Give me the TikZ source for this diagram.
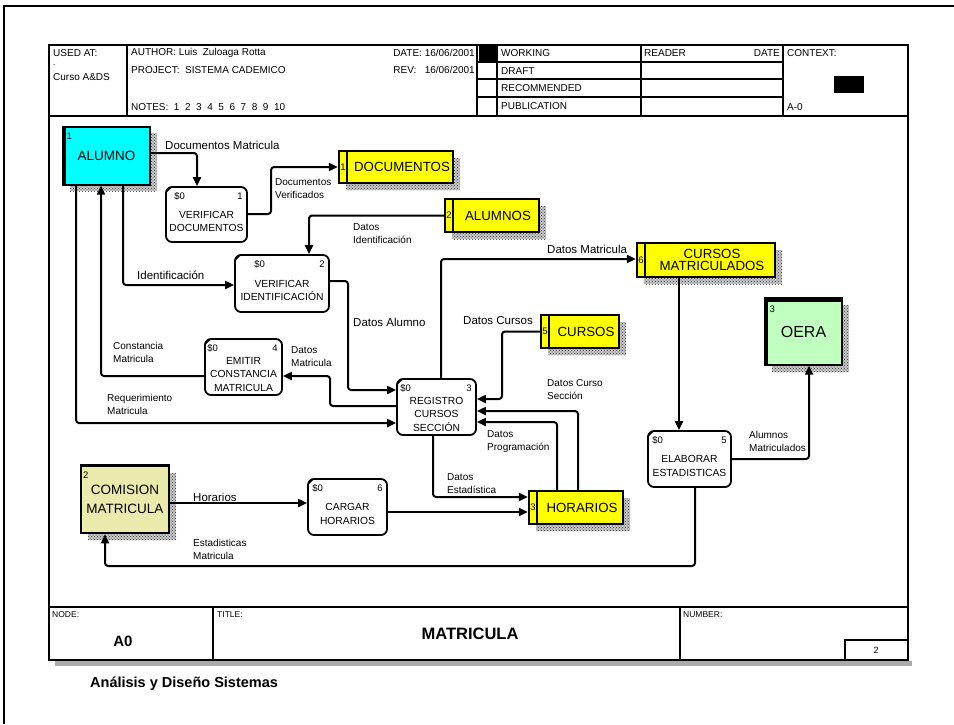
\documentclass[tikz,border=0pt]{standalone}
\usepackage{fontspec}
\setmainfont{Liberation Sans}
\usetikzlibrary{arrows.meta,patterns}

\definecolor{entcyan}{RGB}{0,255,255}
\definecolor{entgreen}{RGB}{192,255,192}
\definecolor{entkhaki}{RGB}{234,234,172}
\definecolor{storeyellow}{RGB}{255,255,0}
\definecolor{shadowgray}{RGB}{170,170,170}

\newcommand\tsz[1]{\fontsize{#1}{#1}\selectfont}

\tikzset{
  flow/.style={line width=2pt, rounded corners=3pt, -{Triangle[length=9pt,width=8pt]}},
  procbox/.style={draw, line width=1.8pt, rounded corners=6pt, fill=white, inner sep=0pt},
  storebox/.style={draw, line width=2.2pt, fill=storeyellow, inner sep=0pt},
  entitybox/.style={draw, line width=1.3pt, inner sep=0pt, align=center},
  hatch/.style={preaction={fill=black!22}, pattern=crosshatch dots, pattern color=black!80, draw=none, inner sep=0pt},
  proctxt/.style={inner sep=0pt, align=center, font=\fontsize{10.3}{13.5}\selectfont},
  tagtxt/.style={inner sep=0pt, font=\tsz{9.5}},
  storetxt/.style={inner sep=0pt, align=center, font=\fontsize{13.3}{12}\selectfont},
  lbl/.style={anchor=west, inner sep=0pt, align=left, font=\fontsize{10}{13}\selectfont},
  biglbl/.style={anchor=west, inner sep=0pt, font=\tsz{11.5}},
  hdr/.style={anchor=west, inner sep=0pt, font=\tsz{10}},
  ftr/.style={anchor=west, inner sep=0pt, font=\tsz{8.5}},
  frame/.style={line width=1.5pt},
}

% process box: name, cx, cy, width, height, number, title, offset of the cost tag
\newcommand\procnode[8]{%
  \node[procbox, minimum width=#4pt, minimum height=#5pt] (#1) at (#2,#3) {};
  \draw[line width=1.2pt] ([xshift=1pt,yshift=-6pt]#1.north west) -- ([xshift=6pt,yshift=-1pt]#1.north west);
  \node[tagtxt, anchor=west] (#1-cost) at ([xshift=#8pt,yshift=-10.5pt]#1.north west) {\$0};
  \node[tagtxt, anchor=east] (#1-num) at ([xshift=-5pt,yshift=-10.5pt]#1.north east) {#6};
  \node[proctxt] (#1-txt) at ([yshift=-7pt]#1.center) {#7};
}

% data store: name, cx, cy, width, height, number, title
\newcommand\storenode[7]{%
  \node[hatch, minimum width=#4pt, minimum height=#5pt] (#1-sh) at (#2+7,#3+7) {};
  \node[storebox, minimum width=#4pt, minimum height=#5pt] (#1) at (#2,#3) {};
  \draw[line width=2pt] ([xshift=9.5pt]#1.north west) -- ([xshift=9.5pt]#1.south west);
  \node[tagtxt] (#1-num) at ([xshift=5pt]#1.west) {#6};
  \node[storetxt] (#1-txt) at ([xshift=6pt]#1.center) {#7};
}

\begin{document}
\begin{tikzpicture}[x=1pt,y=-1pt]
\useasboundingbox (0,0) rectangle (954,724);

% page border
\draw[line width=1.5pt] (4,724) -- (4,6) -- (954,6);

% ---------------- header block ----------------
\draw[frame] (49,45) rectangle (908,660);
\draw[line width=2pt] (49,116) -- (908,116);
\draw[frame] (127,45) -- (127,116);
\draw[frame] (477,45) -- (477,116);
\draw[line width=1.2pt] (497,45) -- (497,116);
\draw[frame] (641,45) -- (641,116);
\draw[frame] (783,45) -- (783,116);
\foreach \yy in {62,79,97} \draw[line width=1.2pt] (477,\yy) -- (783,\yy);
\fill (479,45) rectangle (497,62);
\fill (834,76) rectangle (864,93);

\node[hdr] (h-used) at (53,53) {USED AT:};
\node[hdr, font=\tsz{8}] (h-dot) at (53,65) {.};
\node[hdr] (h-curso) at (53,77) {Curso A\&DS};
\node[hdr] (h-author) at (131,53) {AUTHOR: Luis\ \ Zuloaga Rotta};
\node[hdr] (h-project) at (131,70) {PROJECT:\ \ SISTEMA CADEMICO};
\node[hdr] (h-notes) at (131,107) {NOTES:\ \ 1\ \ 2\ \ 3\ \ 4\ \ 5\ \ 6\ \ 7\ \ 8\ \ 9\ \ 10};
\node[hdr, anchor=east] (h-date) at (475,53) {DATE: 16/06/2001};
\node[hdr, anchor=east] (h-rev) at (475,70) {REV:\ \ \ 16/06/2001};
\node[hdr] (h-working) at (501,53) {WORKING};
\node[hdr] (h-draft) at (501,71) {DRAFT};
\node[hdr] (h-recom) at (501,88) {RECOMMENDED};
\node[hdr] (h-pub) at (501,106) {PUBLICATION};
\node[hdr] (h-reader) at (644,53) {READER};
\node[hdr, anchor=east] (h-rdate) at (780,53) {DATE};
\node[hdr] (h-context) at (787,53) {CONTEXT:};
\node[hdr] (h-a0) at (787,107) {A-0};

% ---------------- footer block ----------------
\fill[shadowgray] (55,661) rectangle (912,666);
\draw[line width=2pt] (49,607) -- (908,607);
\draw[line width=2pt] (49,660) -- (908,660);
\draw[frame] (213,607) -- (213,660);
\draw[frame] (680,607) -- (680,660);
\draw[frame] (845,660) -- (845,640) -- (908,640);
\node[ftr] (f-node) at (52,615) {NODE:};
\node[ftr] (f-title) at (217,615) {TITLE:};
\node[ftr] (f-number) at (683,615) {NUMBER:};
\node[inner sep=0pt, font=\bfseries\tsz{15}] (f-a0) at (123,641) {A0};
\node[inner sep=0pt, font=\bfseries\tsz{16.5}] (f-title-txt) at (470,634) {MATRICULA};
\node[inner sep=0pt, font=\tsz{9}] (f-page) at (876,650) {2};
\node[anchor=west, inner sep=0pt, font=\bfseries\tsz{14.5}] (f-course) at (90,684) {Análisis y Diseño Sistemas};

% ---------------- external entities ----------------
\node[hatch, minimum width=87pt, minimum height=58pt] (alumno-sh) at (113.5,162) {};
\node[entitybox, fill=entcyan, minimum width=87pt, minimum height=58pt, font=\tsz{13.5}] (alumno) at (106.5,156) {ALUMNO};
\draw[line width=4pt] ([xshift=2pt]alumno.south west) -- ([xshift=2pt]alumno.north west);
\draw[line width=2.4pt] ([yshift=-0.8pt]alumno.north west) -- ([yshift=-0.8pt]alumno.north east);
\draw[line width=2.4pt] ([yshift=0.8pt]alumno.south west) -- ([yshift=0.8pt]alumno.south east);
\node[tagtxt] (alumno-num) at ([xshift=7pt,yshift=-10pt]alumno.north west) {1};

\node[hatch, minimum width=77pt, minimum height=67pt] (oera-sh) at (810.5,338.5) {};
\node[entitybox, fill=entgreen, minimum width=77pt, minimum height=67pt, font=\tsz{16}] (oera) at (803.5,331.5) {OERA};
\draw[line width=4pt] ([xshift=2pt]oera.south west) -- ([xshift=2pt]oera.north west);
\draw[line width=5pt] ([yshift=-2pt]oera.north west) -- ([yshift=-2pt]oera.north east);
\node[tagtxt] (oera-num) at ([xshift=8pt,yshift=-12pt]oera.north west) {3};

\node[hatch, minimum width=88pt, minimum height=67pt] (comision-sh) at (132,506.5) {};
\node[entitybox, line width=2.5pt, fill=entkhaki, minimum width=88pt, minimum height=67pt, font=\fontsize{13.5}{19}\selectfont] (comision) at (125,499.5) {COMISION\\MATRICULA};
\draw[line width=3pt] ([yshift=-1pt]comision.north west) -- ([yshift=-1pt]comision.north east);
\node[tagtxt] (comision-num) at ([xshift=6pt,yshift=-10pt]comision.north west) {2};

% ---------------- data stores ----------------
\storenode{d1}{396}{167}{114}{32}{1}{DOCUMENTOS}
\storenode{d2}{492}{215.5}{94}{33}{2}{ALUMNOS}
\storenode{d6}{706}{260}{138}{34}{6}{CURSOS\\MATRICULADOS}
\storenode{d5}{580}{331.5}{78}{33}{5}{CURSOS}
\storenode{d3}{576}{507.5}{94}{33}{3}{HORARIOS}

% ---------------- processes ----------------
\procnode{p1}{206.5}{214.5}{81}{55}{1}{VERIFICAR\\DOCUMENTOS}{9}
\procnode{p2}{282}{283.5}{94}{57}{2}{VERIFICAR\\IDENTIFICACIÓN}{20}
\procnode{p3}{436.5}{407}{79}{56}{3}{REGISTRO\\CURSOS\\SECCIÓN}{4}
\procnode{p4}{243.5}{367}{77}{56}{4}{EMITIR\\CONSTANCIA\\MATRICULA}{3}
\procnode{p5}{689.5}{459}{83}{56}{5}{ELABORAR\\ESTADISTICAS}{5}
\procnode{p6}{347.5}{507}{79}{56}{6}{CARGAR\\HORARIOS}{5}

% ---------------- data flows ----------------
\draw[flow] (alumno.east |- 0,153) -| (197,0 |- p1.north);
\draw[flow] (p1.east |- 0,214) -| (271,167) -- (d1.west |- 0,167);
\draw[flow] (d2.west) -| (309,0 |- p2.north);
\draw[flow] (123,0 |- alumno.south) |- (p2.west |- 0,285);
\draw[flow] (p2.east |- 0,281) -| (348,390) -- (p3.west |- 0,390);
\draw[flow] (441,0 |- p3.north) |- (d6.west |- 0,259);
\draw[flow] (d5.west) -| (502,399) -- (p3.east |- 0,399);
\draw[flow] (578,0 |- d3.north) |- (p3.east |- 0,411);
\draw[flow] (557,0 |- d3.north) |- (p3.east |- 0,422);
\draw[flow] (433,0 |- p3.south) |- (d3.west |- 0,497);
\draw[flow] (p6.east |- 0,512) -- (d3.west |- 0,512);
\draw[flow] (comision.east |- 0,503) -- (p6.west |- 0,503);
\draw[flow] (p3.west |- 0,406) -| (330,376) -- (p4.east |- 0,376);
\draw[flow] (p4.west |- 0,376) -| (101,0 |- alumno.south);
\draw[flow] (76,0 |- alumno.south) |- (p3.west |- 0,423);
\draw[flow] (695,0 |- p5.south) |- (105,566) -- (105,0 |- comision.south);
\draw[flow] (679,0 |- d6.south) -- (679,0 |- p5.north);
\draw[flow] (p5.east |- 0,459) -| (809,0 |- oera.south);

% ---------------- flow labels ----------------
\node[biglbl] (l-docmat) at (165,145) {Documentos Matricula};
\node[lbl] (l-docver) at (275,189) {Documentos\\Verificados};
\node[lbl] (l-datid) at (353,234) {Datos\\Identificación};
\node[biglbl] (l-ident) at (137,275) {Identificación};
\node[biglbl] (l-datalu) at (353,322) {Datos Alumno};
\node[biglbl] (l-datmat) at (547,249) {Datos Matricula};
\node[biglbl] (l-datcur) at (463,321) {Datos Cursos};
\node[lbl] (l-cursec) at (547,390) {Datos Curso\\Sección};
\node[lbl] (l-prog) at (487,442) {Datos\\Programación};
\node[lbl] (l-estad) at (447,484) {Datos\\Estadística};
\node[biglbl] (l-hor) at (193,497) {Horarios};
\node[lbl] (l-estmat) at (193,549) {Estadisticas\\Matricula};
\node[lbl] (l-alumat) at (749,441) {Alumnos\\Matriculados};
\node[lbl] (l-const) at (113,352) {Constancia\\Matricula};
\node[lbl] (l-datmat2) at (291,357) {Datos\\Matricula};
\node[lbl] (l-req) at (107,404) {Requerimiento\\Matricula};

\end{tikzpicture}
\end{document}
